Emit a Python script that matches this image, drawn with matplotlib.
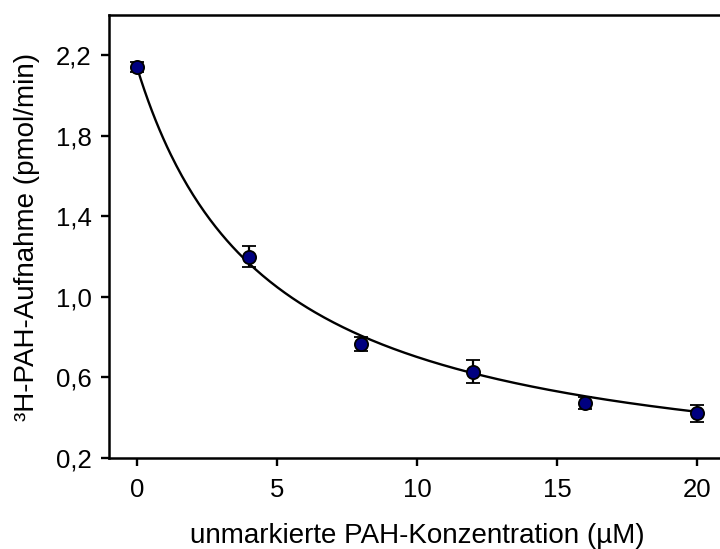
import numpy as np
import matplotlib
matplotlib.use("Agg")
import matplotlib.pyplot as plt

plt.rcParams['font.family'] = ['Liberation Sans', 'DejaVu Sans']

# Messwerte
konz = [0, 4, 8, 12, 16, 20]
aufnahme = [2.14, 1.20, 0.765, 0.628, 0.473, 0.423]
fehler = [0.025, 0.052, 0.035, 0.058, 0.03, 0.042]

# Fit-Parameter (hyperbolische Hemmung): y = unten + A / (1 + x / IC50)
fit_unten = 0.03
fit_A = 2.11
fit_ic50 = 4.67

x_fit = np.linspace(0, 20, 300)
y_fit = fit_unten + fit_A / (1 + x_fit / fit_ic50)

fig = plt.figure(figsize=(7.2, 5.49), dpi=100)
ax = fig.add_axes([109 / 720, 91 / 549, 616 / 720, 443 / 549])

ax.plot(x_fit, y_fit, color='black', linewidth=1.7, zorder=2)
ax.errorbar(konz, aufnahme, yerr=fehler, fmt='o', color='black', ecolor='black',
            elinewidth=1.6, capsize=5, capthick=1.6, markersize=9.5,
            markerfacecolor='#000080', markeredgecolor='black', markeredgewidth=1.3, zorder=3)

ax.set_xlim(-1, 21)
ax.set_ylim(0.2, 2.4)
ax.set_xticks([0, 5, 10, 15, 20])
ax.set_yticks([0.2, 0.6, 1.0, 1.4, 1.8, 2.2])
ax.set_yticklabels(['0,2', '0,6', '1,0', '1,4', '1,8', '2,2'])

for s in ax.spines.values():
    s.set_linewidth(1.8)
ax.tick_params(direction='out', length=5.5, width=1.7, labelsize=18.5)
ax.tick_params(axis='x', pad=9)
ax.tick_params(axis='y', pad=7)

ax.set_xlabel('unmarkierte PAH-Konzentration (µM)', fontsize=20, labelpad=15)
ax.set_ylabel('³H-PAH-Aufnahme (pmol/min)', fontsize=20, labelpad=11)

fig.savefig('out.png', dpi=100)
